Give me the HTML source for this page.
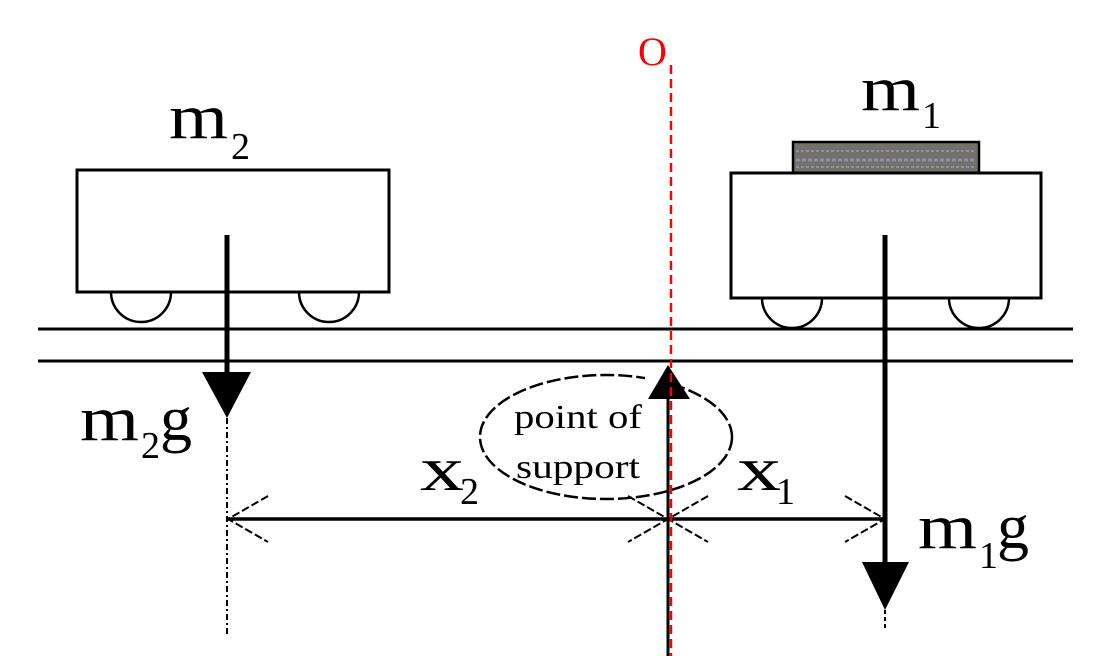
<!DOCTYPE html>
<html><head><style>html,body{margin:0;padding:0;background:#fff}svg{display:block}text{font-family:"Liberation Serif",serif;fill:#000}</style></head><body>
<svg width="1100" height="656" viewBox="0 0 1100 656" xmlns="http://www.w3.org/2000/svg">
<line x1="38" y1="329" x2="1073" y2="329" stroke="#000" stroke-width="3"/>
<line x1="38" y1="361" x2="1073" y2="361" stroke="#000" stroke-width="3"/>
<rect x="77" y="170" width="312" height="122" fill="#fff" stroke="#000" stroke-width="3"/>
<path d="M111 292 A30 30 0 0 0 171 292" fill="none" stroke="#000" stroke-width="2.5"/>
<path d="M299 292 A30 30 0 0 0 359 292" fill="none" stroke="#000" stroke-width="2.5"/>
<rect x="793" y="142" width="186" height="31" fill="#727268" stroke="#000" stroke-width="2.5"/>
<line x1="796" y1="151" x2="976" y2="151" stroke="#8c8cb4" stroke-width="2" stroke-dasharray="3 2"/>
<line x1="796" y1="160" x2="976" y2="160" stroke="#8c8cb4" stroke-width="3" stroke-dasharray="4 2"/>
<line x1="796" y1="167" x2="976" y2="167" stroke="#8c8cb4" stroke-width="2" stroke-dasharray="3 2"/>
<rect x="731" y="173" width="310" height="125" fill="#fff" stroke="#000" stroke-width="3"/>
<path d="M762 298 A30 30 0 0 0 822 298" fill="none" stroke="#000" stroke-width="2.5"/>
<path d="M949 298 A30 30 0 0 0 1009 298" fill="none" stroke="#000" stroke-width="2.5"/>
<line x1="227" y1="235" x2="227" y2="380" stroke="#000" stroke-width="5"/>
<polygon points="202,372 251,372 227,418" fill="#000"/>
<line x1="227" y1="418" x2="227" y2="636" stroke="#000" stroke-width="2" stroke-dasharray="6 3 2 3"/>
<line x1="885" y1="235" x2="885" y2="570" stroke="#000" stroke-width="5"/>
<polygon points="862,562 909,562 885,610" fill="#000"/>
<line x1="885" y1="610" x2="885" y2="628" stroke="#000" stroke-width="2" stroke-dasharray="4 3"/>
<ellipse cx="606" cy="437" rx="126" ry="62" fill="none" stroke="#000" stroke-width="2.5" stroke-dasharray="14 4"/>
<rect x="645" y="365" width="30" height="60" fill="#fff"/>
<line x1="228" y1="519" x2="885" y2="519" stroke="#000" stroke-width="3.5"/>
<path d="M268 496 L228 519 L268 542" fill="none" stroke="#000" stroke-width="2" stroke-dasharray="8 3"/>
<path d="M845 496 L885 519 L845 542" fill="none" stroke="#000" stroke-width="2" stroke-dasharray="8 3"/>
<path d="M628 496 L668 519 L628 542 M708 496 L668 519 L708 542" fill="none" stroke="#000" stroke-width="2" stroke-dasharray="8 3"/>
<line x1="668" y1="396" x2="668" y2="656" stroke="#000" stroke-width="3"/>
<polygon points="668,365 648,399 690,399" fill="#000"/>
<line x1="671" y1="65" x2="671" y2="656" stroke="#f00" stroke-width="2.5" stroke-dasharray="9 5"/>
<text x="638" y="65" font-size="40" style="fill:#f00">O</text>
<text x="169" y="138" font-size="64" textLength="59" lengthAdjust="spacingAndGlyphs">m</text><text x="231" y="159" font-size="38">2</text>
<text x="861" y="110" font-size="64" textLength="59" lengthAdjust="spacingAndGlyphs">m</text><text x="922" y="128" font-size="38">1</text>
<text x="80" y="440" font-size="64" textLength="59" lengthAdjust="spacingAndGlyphs">m</text><text x="141" y="458" font-size="38">2</text><text x="160" y="440" font-size="64">g</text>
<text x="918" y="548" font-size="64" textLength="59" lengthAdjust="spacingAndGlyphs">m</text><text x="979" y="568" font-size="38">1</text><text x="997" y="548" font-size="64">g</text>
<text x="420" y="490" font-size="62" textLength="44" lengthAdjust="spacingAndGlyphs">x</text><text x="460" y="504" font-size="38">2</text>
<text x="737" y="490" font-size="62" textLength="44" lengthAdjust="spacingAndGlyphs">x</text><text x="776" y="504" font-size="38">1</text>
<text x="514" y="428" font-size="34" textLength="128" lengthAdjust="spacingAndGlyphs">point of</text>
<text x="516" y="478" font-size="34" textLength="124" lengthAdjust="spacingAndGlyphs">support</text>
</svg>
</body></html>
